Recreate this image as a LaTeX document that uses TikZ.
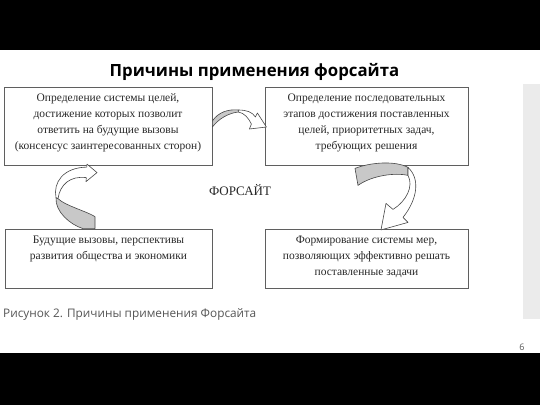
\documentclass[tikz,border=0pt]{standalone}
\usepackage{fontspec}
\setmainfont{Liberation Serif}
\newfontfamily\slidefont{Open Sans}
\usetikzlibrary{positioning}

\definecolor{boxline}{RGB}{95,95,95}
\definecolor{boxink}{RGB}{40,40,40}
\definecolor{arrowgray}{RGB}{200,200,200}
\definecolor{arrowline}{RGB}{70,70,70}
\definecolor{sidebar}{RGB}{235,235,235}
\definecolor{captionink}{RGB}{85,85,85}
\tikzstyle{stage}=[draw=boxline, line width=0.8pt, rectangle, inner sep=0pt]
\tikzstyle{stagetext}=[text=boxink, align=center, inner sep=0pt,
                       font=\fontsize{11.5}{16}\selectfont]
\tikzstyle{backside}=[fill=arrowgray, draw=arrowline, line width=0.6pt,
                      line join=round]
\tikzstyle{frontside}=[fill=white, draw=arrowline, line width=0.6pt,
                       line join=round]

\begin{document}
\begin{tikzpicture}[x=1pt, y=-1pt]
  % Slide frame
  \useasboundingbox (0,0) rectangle (540,405);
  \fill[white] (0,0) rectangle (540,405);
  \fill[black] (0,0) rectangle (540,50);
  \fill[black] (0,353) rectangle (540,405);
  \fill[sidebar] (523,84) rectangle (540,319);
  %
  \node[font=\slidefont\bfseries\fontsize{16.8}{20}\selectfont, anchor=base,
        inner sep=0pt] (title) at (254.5,76) {Причины применения форсайта};
  %
  % Place the four boxes
  \foreach \place/\w/\h/\name in {{(108,126)/208/78/goals},
           {(366.5,126)/203/78/stages}, {(108.5,258.5)/207/59/challenges},
           {(366.5,258.5)/203/59/measures}}
    \node[stage, minimum width=\w pt, minimum height=\h pt] (\name) at \place {};
  %
  \node[stagetext, below=7pt of goals.north] (goalstext)
    {Определение системы целей,\\ достижение которых позволит\\
     ответить на будущие вызовы\\ (консенсус заинтересованных сторон)};
  \node[stagetext, below=7pt of stages.north] (stagestext)
    {Определение последовательных\\ этапов достижения поставленных\\
     целей, приоритетных задач,\\ требующих решения};
  \node[stagetext, below=7pt of challenges.north] (challengestext)
    {Будущие вызовы, перспективы\\ развития общества и экономики};
  \node[stagetext, below=7pt of measures.north] (measurestext)
    {Формирование системы мер,\\ позволяющих эффективно решать\\
     поставленные задачи};
  %
  \node[font=\fontsize{13}{15}\selectfont, text=boxink, anchor=base,
        inner sep=0pt] (foresight) at (240,195.5) {ФОРСАЙТ};
  %
  % Curved arrows
  \begin{scope}[shift={(goals.east)}]
    \draw[backside] (0,-5) .. controls (6,-14) and (16,-17) .. (26,-16)
      -- (26,-14) .. controls (16,-13) and (6,-7) .. (0,1) -- cycle;
    \draw[frontside] (26,-16) .. controls (34,-16) and (40,-14) .. (43,-9)
      -- (45,-13) -- (54,1) -- (37,3) -- (39,-2)
      .. controls (36,-8) and (32,-13) .. (26,-14) -- cycle;
  \end{scope}
  \begin{scope}[shift={(challenges.north)}]
    \draw[backside] (-13.5,0) -- (-13.5,-12)
      .. controls (-23.5,-18) and (-43.5,-23) .. (-50.5,-30) -- (-52.5,-31)
      .. controls (-53.5,-17) and (-38.5,-4) .. (-25.5,0) -- cycle;
    \draw[frontside] (-52.5,-31) .. controls (-55.5,-46) and (-45.5,-61) .. (-21.7,-61.5)
      -- (-21.5,-64.5) -- (-11.5,-56) -- (-22.5,-47) -- (-22.2,-51)
      .. controls (-38.5,-53) and (-48.5,-44) .. (-50.5,-30) -- cycle;
  \end{scope}
  \begin{scope}[shift={(stages.south)}]
    \draw[backside] (-11.5,3) .. controls (3.5,-3) and (28.5,-5) .. (41.5,2)
      -- (41.5,10) .. controls (28.5,7) and (5.5,10) .. (-8.5,20) -- cycle;
    \draw[frontside] (41.5,2) .. controls (53.5,13) and (51.5,33) .. (36.5,52)
      -- (41.5,57) -- (14.5,64.5) -- (19.5,38) -- (26.5,44)
      .. controls (39.5,36) and (47.5,21) .. (41.5,10) -- cycle;
  \end{scope}
  %
  % Caption and page number
  \node[font=\slidefont\fontsize{11.8}{14}\selectfont, text=captionink,
        anchor=base west, inner sep=0pt] (caption) at (3,317)
    {Рисунок 2. Причины применения Форсайта};
  \node[font=\slidefont\fontsize{9}{10}\selectfont, text=captionink]
    (pagenum) at (522,347) {6};
\end{tikzpicture}
\end{document}
